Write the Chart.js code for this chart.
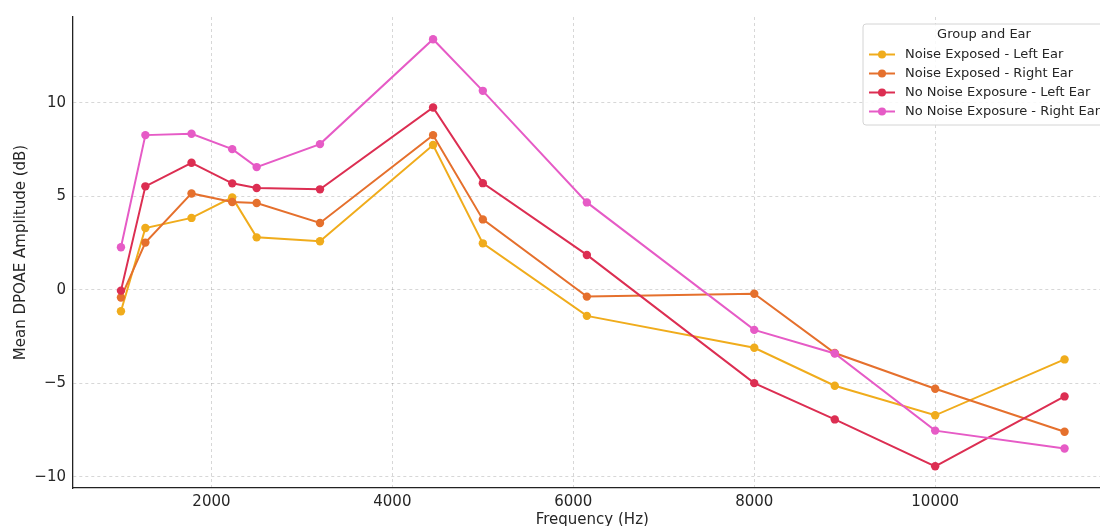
<!DOCTYPE html>
<html>
<head>
<meta charset="utf-8">
<script src="https://cdn.jsdelivr.net/npm/chart.js@4/dist/chart.umd.min.js"></script>
<style>
  html, body { margin: 0; padding: 0; background: #fff; overflow: hidden; }
  #wrap { width: 1130px; height: 526px; }
</style>
</head>
<body>
<div id="wrap"><canvas id="chart" width="1130" height="526"></canvas></div>
<script>
// frequencies (Hz) and mean DPOAE amplitudes (dB)
const freqs = [1000, 1270, 1780, 2230, 2500, 3200, 4450, 5000, 6150, 8000, 8890, 10000, 11430];
const noiseLeft = [-1.14, 3.31, 3.85, 4.95, 2.81, 2.60, 7.75, 2.49, -1.39, -3.10, -5.13, -6.71, -3.72];
const noiseRight = [-0.41, 2.53, 5.16, 4.70, 4.65, 3.58, 8.28, 3.77, -0.36, -0.21, -3.38, -5.29, -7.59];
const quietLeft = [-0.04, 5.54, 6.80, 5.70, 5.45, 5.38, 9.76, 5.71, 1.87, -4.99, -6.93, -9.44, -5.70];
const quietRight = [2.28, 8.28, 8.35, 7.53, 6.57, 7.80, 13.41, 10.65, 4.68, -2.14, -3.40, -7.53, -8.49];

const seriesNames = ['Noise Exposed - Left Ear', 'Noise Exposed - Right Ear', 'No Noise Exposure - Left Ear', 'No Noise Exposure - Right Ear'];
const seriesColors = ['#f0ac1c', '#e5702d', '#dc2e52', '#e65bc6'];
const seriesValues = [noiseLeft, noiseRight, quietLeft, quietRight];

const xTicks = [2000, 4000, 6000, 8000, 10000];
const yTicks = [-10, -5, 0, 5, 10];

Chart.defaults.font.family = "'DejaVu Sans', sans-serif";
Chart.defaults.color = '#262626';

const datasets = seriesValues.map((vals, i) => ({
  label: seriesNames[i],
  data: freqs.map((f, j) => ({ x: f, y: vals[j] })),
  borderColor: seriesColors[i],
  backgroundColor: seriesColors[i],
  borderWidth: 2,
  pointRadius: 4.2,
  pointBorderWidth: 0,
  tension: 0,
  order: 3 - i
}));

// legend drawn inside the plot, like the matplotlib one
const boxLegend = {
  id: 'boxLegend',
  afterDraw(chart) {
    const ctx = chart.ctx;
    const x = 863, y = 24, w = 242, h = 101;
    ctx.save();
    ctx.beginPath();
    ctx.roundRect(x, y, w, h, 3);
    ctx.fillStyle = 'rgba(255,255,255,0.85)';
    ctx.fill();
    ctx.strokeStyle = '#d4d4d4';
    ctx.lineWidth = 1;
    ctx.stroke();

    ctx.font = "13px 'DejaVu Sans'";
    ctx.fillStyle = '#262626';
    ctx.textBaseline = 'middle';
    ctx.textAlign = 'center';
    ctx.fillText('Group and Ear', 984, 35);
    ctx.textAlign = 'left';
    chart.data.datasets.forEach((ds, i) => {
      const ry = 54.5 + i * 19;
      ctx.strokeStyle = ds.borderColor;
      ctx.lineWidth = 2;
      ctx.beginPath();
      ctx.moveTo(869, ry);
      ctx.lineTo(895, ry);
      ctx.stroke();
      ctx.fillStyle = ds.borderColor;
      ctx.beginPath();
      ctx.arc(882, ry, 4, 0, Math.PI * 2);
      ctx.fill();
      ctx.fillStyle = '#262626';
      ctx.fillText(ds.label, 905, ry + 0.5);
    });
    ctx.restore();
  }
};

const ctx = document.getElementById('chart');

new Chart(ctx, {
  type: 'line',
  data: { datasets },
  plugins: [boxLegend],
  options: {
    responsive: false,
    animation: false,
    layout: { padding: { left: 0, top: 17, right: 18.4, bottom: 0 } },
    plugins: { legend: { display: false }, tooltip: { enabled: false } },
    scales: {
      x: {
        type: 'linear',
        min: 470,
        max: 11950,
        afterBuildTicks: s => { s.ticks = xTicks.map(v => ({ value: v })); },
        afterFit: s => { s.height = 38; },
        ticks: { padding: 5, font: { size: 15 }, color: '#262626', callback: v => String(v) },
        grid: { color: 'rgba(0,0,0,0.2)', lineWidth: 0.8, drawTicks: false },
        border: { color: '#222', width: 1.3, dash: [3, 3] },
        title: { display: true, text: 'Frequency (Hz)', font: { size: 15, lineHeight: 1 }, padding: { top: 0, bottom: -2 }, color: '#262626' }
      },
      y: {
        min: -10.6,
        max: 14.6,
        afterBuildTicks: s => { s.ticks = yTicks.map(v => ({ value: v })); },
        afterFit: s => { s.width = 73; },
        ticks: { padding: 7, font: { size: 15 }, color: '#262626', callback: v => v < 0 ? '\u2212' + Math.abs(v) : String(v) },
        grid: { color: 'rgba(0,0,0,0.2)', lineWidth: 0.8, drawTicks: false },
        border: { color: '#222', width: 1.3, dash: [3, 3] },
        title: { display: true, text: 'Mean DPOAE Amplitude (dB)', font: { size: 15, lineHeight: 1 }, padding: { top: 14, bottom: 0 }, color: '#262626' }
      }
    }
  }
});
</script>
</body>
</html>
